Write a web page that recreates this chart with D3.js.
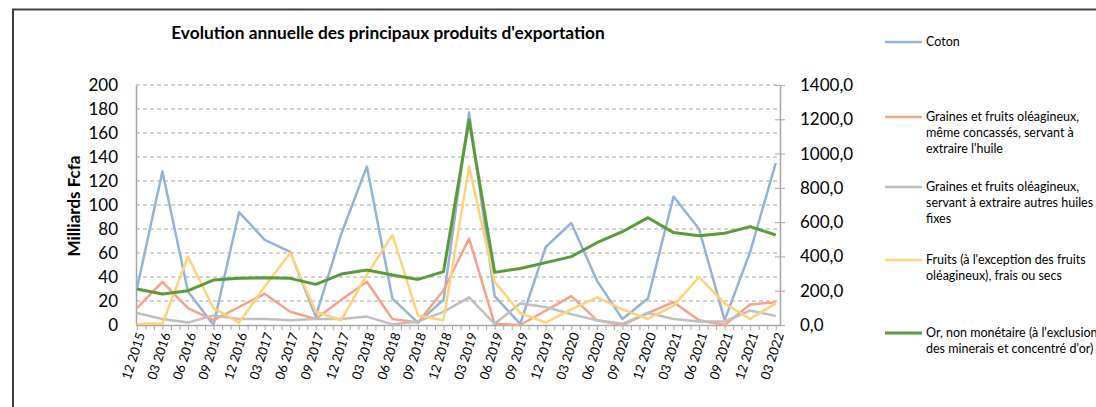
<!DOCTYPE html>
<meta charset="utf-8">
<style>
  body { margin: 0; background: #fff; }
  text { font-family: Lato, "Open Sans", sans-serif; fill: #000; }
</style>
<script src="https://d3js.org/d3.v7.min.js"></script>
<div id="chart"></div>
<script>
// quarterly labels (one point per quarter)
var quarters = ["12 2015","03 2016","06 2016","09 2016","12 2016","03 2017","06 2017","09 2017",
  "12 2017","03 2018","06 2018","09 2018","12 2018","03 2019","06 2019","09 2019","12 2019",
  "03 2020","06 2020","09 2020","12 2020","03 2021","06 2021","09 2021","12 2021","03 2022"];

var coton = [30,128,28,0,94,71,61,7,76,132,22,2,21,177,24,1,65,85,37,5,22,107,80,4,61,135];
var grainesHuile = [14,36,14,4,15,26,11,5,21,36,5,2,29,72,1,0,12,24,4,0,10,19,4,0,17,19];
var grainesAutres = [10,5,2,8,5,5,4,5,5,7,0.5,3,11,23,1,18,15,9,4,1,10,5,3,3,12,7.5];
var fruits = [1,1,57,14,2,32,60,11,4,42,75,8,4,132,36,10,2,13,23,13,5,16,40,18,5,18];
// right axis (0 - 1400)
var or = [210,181,200,262,272,276,272,237,297,321,292,266,311,1196,307,330,364,399,480,544,626,539,521,535,574,525];

var leftTicks = [0,20,40,60,80,100,120,140,160,180,200];
var rightTicks = [0,200,400,600,800,1000,1200,1400];

var series = [
  {name: ["Coton"], values: coton, color: "#95b3d7", axis: "left", w: 2.5, ly: 42},
  {name: ["Graines et fruits oléagineux,", "même concassés, servant à", "extraire l'huile"], values: grainesHuile, color: "#f2a38a", axis: "left", w: 2.5, ly: 117},
  {name: ["Graines et fruits oléagineux,", "servant à extraire autres huiles", "fixes"], values: grainesAutres, color: "#bfbfbf", axis: "left", w: 2.5, ly: 187},
  {name: ["Fruits (à l'exception des fruits", "oléagineux), frais ou secs"], values: fruits, color: "#ffd17a", axis: "left", w: 2.5, ly: 260},
  {name: ["Or, non monétaire (à l'exclusion", "des minerais et concentré d'or)"], values: or, color: "#5b9a3a", axis: "right", w: 3, ly: 333}
];

var W = 1096, H = 407;
var svg = d3.select("#chart").append("svg").attr("width", W).attr("height", H);

// chart frame
svg.append("path").attr("d", "M13,407 V9.5 H1096")
  .attr("fill", "none").attr("stroke", "#404040").attr("stroke-width", 2);

var x = d3.scaleLinear().domain([-0.1, 75.5]).range([136, 780]);
var y = d3.scaleLinear().domain([0, 200]).range([325, 85]);
var yR = d3.scaleLinear().domain([0, 1400]).range([325, 85]);
function mx(i) { return x(i * 3); }

// gridlines
svg.append("g").selectAll("line").data(leftTicks.slice(1)).enter().append("line")
  .attr("x1", 136).attr("x2", 780)
  .attr("y1", d => y(d)).attr("y2", d => y(d))
  .attr("stroke", "#a6a6a6").attr("stroke-width", 1).attr("stroke-dasharray", "4,3");

// left axis
var gl = svg.append("g").attr("transform", "translate(136,0)")
  .call(d3.axisLeft(y).tickValues(leftTicks).tickSize(0).tickPadding(18));
gl.select(".domain").attr("stroke", "#a6a6a6").attr("stroke-width", 1.5);
gl.selectAll("text").style("font-size", "17px");

// right axis
var gr = svg.append("g").attr("transform", "translate(780,0)")
  .call(d3.axisRight(yR).tickValues(rightTicks).tickSizeInner(5).tickSizeOuter(0).tickPadding(15)
    .tickFormat(d => d3.format(".1f")(d).replace(".", ",")));
gr.select(".domain").attr("stroke", "#a6a6a6").attr("stroke-width", 1.5);
gr.selectAll(".tick line").attr("stroke", "#a6a6a6").attr("x1", -5).attr("x2", 5);
gr.selectAll("text").style("font-size", "17px");

// bottom axis (monthly ticks)
var gb = svg.append("g").attr("transform", "translate(0,325)")
  .call(d3.axisBottom(x).tickValues(d3.range(0, 76)).tickSizeInner(5).tickSizeOuter(0).tickFormat(""));
gb.select(".domain").attr("stroke", "#a6a6a6").attr("stroke-width", 1.5);
gb.selectAll(".tick line").attr("stroke", "#a6a6a6");

svg.append("g").selectAll("text").data(quarters).enter().append("text")
  .attr("transform", (d, i) => "translate(" + (mx(i) + 4) + ",333) rotate(-72)")
  .attr("text-anchor", "end")
  .attr("dy", "0.35em")
  .style("font-size", "13px")
  .text(d => d);

// lines
series.forEach(function (s) {
  var sy = s.axis === "left" ? y : yR;
  var line = d3.line().x((d, i) => mx(i)).y(d => sy(d));
  svg.append("path").datum(s.values)
    .attr("d", line)
    .attr("fill", "none")
    .attr("stroke", s.color)
    .attr("stroke-width", s.w)
    .attr("stroke-linejoin", "round");
});

// title
svg.append("text").attr("x", 388).attr("y", 39).attr("text-anchor", "middle")
  .style("font-size", "17.3px").style("font-weight", "bold")
  .text("Evolution annuelle des principaux produits d'exportation");

// y title
svg.append("text").attr("transform", "translate(80,206) rotate(-90)")
  .attr("text-anchor", "middle")
  .style("font-size", "17px").style("font-weight", "bold")
  .text("Milliards Fcfa");

// legend
var lg = svg.append("g");
series.forEach(function (s) {
  lg.append("line").attr("x1", 885).attr("x2", 922).attr("y1", s.ly).attr("y2", s.ly)
    .attr("stroke", s.color).attr("stroke-width", s.w);
  var t = lg.append("text").attr("x", 926).attr("y", s.ly)
    .style("font-size", "12.5px");
  s.name.forEach(function (n, k) {
    t.append("tspan").attr("x", 926).attr("dy", k === 0 ? "0.35em" : "16px").text(n);
  });
});
</script>
